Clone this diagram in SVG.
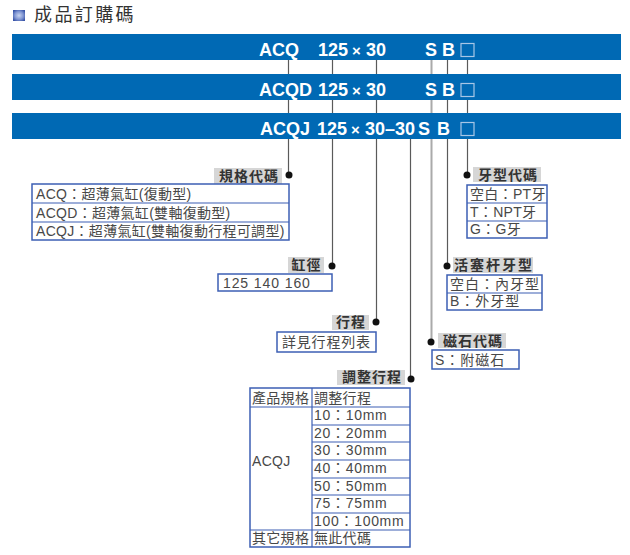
<svg xmlns="http://www.w3.org/2000/svg" width="630" height="555" viewBox="0 0 630 555">
<defs>
<radialGradient id="ig" cx="0.5" cy="0.5" r="0.6">
<stop offset="0" stop-color="#c8d4f0"/>
<stop offset="0.6" stop-color="#7f95d2"/>
<stop offset="1" stop-color="#3a55a8"/>
</radialGradient>
<style>
.bar{fill:#0069b4}
.bt{font-family:"Liberation Sans","Noto Sans CJK TC",sans-serif;font-weight:bold;font-size:18px;fill:#fff}
.bx{fill:none;stroke:#a7c6e6;stroke-width:1.2}
.ln{stroke:#5a5a5a;stroke-width:1.2;fill:none}
.ln2{stroke:#aaaaaa;stroke-width:2;fill:none}
.dot{fill:#111}
.lb{fill:#d6d6d6}
.lt{font-family:"Noto Sans CJK TC","Noto Sans CJK SC",sans-serif;font-weight:bold;font-size:14px;fill:#333;text-anchor:middle;letter-spacing:1px}
.box{fill:#fff;stroke:#3d5fb4;stroke-width:1.5}
.sep{stroke:#3d5fb4;stroke-width:1.2}
.vt{font-family:"Liberation Sans","Noto Sans CJK TC",sans-serif;font-size:14px;fill:#484848;letter-spacing:0.3px}
</style>
</defs>
<rect width="630" height="555" fill="#fff"/>
<g id="title">
<rect x="13" y="10" width="12" height="11" fill="url(#ig)"/>
<text x="34" y="21" font-family="Noto Sans CJK TC,Noto Sans CJK SC,sans-serif" font-size="18" letter-spacing="2.4" fill="#333">成品訂購碼</text>
</g>
<g id="connectors">
<line class="ln" x1="288.5" y1="60" x2="288.5" y2="175"/>
<line class="ln" x1="332.5" y1="60" x2="332.5" y2="266"/>
<line class="ln" x1="376.5" y1="60" x2="376.5" y2="322"/>
<line class="ln" x1="410.5" y1="139" x2="410.5" y2="379"/>
<line class="ln2" x1="431.5" y1="60" x2="431.5" y2="342"/>
<line class="ln" x1="447.5" y1="60" x2="447.5" y2="266"/>
<line class="ln" x1="467.5" y1="60" x2="467.5" y2="175"/>
<circle class="dot" cx="289" cy="175" r="3.5"/>
<circle class="dot" cx="332" cy="266" r="3.5"/>
<circle class="dot" cx="376" cy="322" r="3.5"/>
<circle class="dot" cx="411" cy="379" r="3.5"/>
<circle class="dot" cx="431" cy="342" r="3.5"/>
<circle class="dot" cx="447" cy="266" r="3.5"/>
<circle class="dot" cx="467" cy="175" r="3.5"/>
</g>
<g id="bar1">
<rect class="bar" x="12" y="34" width="609" height="26"/>
<text class="bt" y="56"><tspan x="259">ACQ</tspan><tspan x="318">125</tspan><tspan x="352" font-size="15">×</tspan><tspan x="366">30</tspan><tspan x="425">S</tspan><tspan x="442">B</tspan></text>
<rect class="bx" x="461" y="43.5" width="13" height="13"/>
</g>
<g id="bar2">
<rect class="bar" x="12" y="74" width="609" height="26"/>
<text class="bt" y="96"><tspan x="259">ACQD</tspan><tspan x="318">125</tspan><tspan x="352" font-size="15">×</tspan><tspan x="366">30</tspan><tspan x="425">S</tspan><tspan x="442">B</tspan></text>
<rect class="bx" x="461" y="83.5" width="13" height="13"/>
</g>
<g id="bar3">
<rect class="bar" x="12" y="113" width="609" height="26"/>
<text class="bt" y="135"><tspan x="260">ACQJ</tspan><tspan x="317">125</tspan><tspan x="351" font-size="15">×</tspan><tspan x="365">30</tspan><tspan x="385">–</tspan><tspan x="395">30</tspan><tspan x="418">S</tspan><tspan x="437">B</tspan></text>
<rect class="bx" x="461" y="122.5" width="13" height="13"/>
</g>
<g id="model">
<rect class="lb" x="214" y="168" width="68" height="16"/>
<text class="lt" x="249" y="181">規格代碼</text>
<rect class="box" x="32" y="184" width="257" height="56"/>
<line class="sep" x1="32" y1="203" x2="289" y2="203"/>
<line class="sep" x1="32" y1="222" x2="289" y2="222"/>
<text class="vt" x="36" y="199">ACQ：超薄氣缸(復動型)</text>
<text class="vt" x="36" y="218">ACQD：超薄氣缸(雙軸復動型)</text>
<text class="vt" x="36" y="236">ACQJ：超薄氣缸(雙軸復動行程可調型)</text>
</g>
<g id="bore">
<rect class="lb" x="288" y="257" width="36" height="16"/>
<text class="lt" x="306.5" y="270">缸徑</text>
<rect class="box" x="218" y="274" width="114" height="17"/>
<text class="vt" x="223" y="288" style="letter-spacing:0.9px">125 140 160</text>
</g>
<g id="stroke">
<rect class="lb" x="332" y="315" width="37" height="15"/>
<text class="lt" x="351" y="327">行程</text>
<rect class="box" x="277" y="332" width="99" height="20"/>
<text class="vt" x="282" y="347" style="letter-spacing:0.8px">詳見行程列表</text>
</g>
<g id="adjust">
<rect class="lb" x="337" y="370" width="68" height="15"/>
<text class="lt" x="372" y="382">調整行程</text>
<rect class="box" x="250" y="388" width="160" height="159"/>
<line class="sep" x1="312" y1="388" x2="312" y2="547"/>
<line class="sep" x1="250" y1="407" x2="410" y2="407"/>
<line class="sep" x1="312" y1="425" x2="410" y2="425"/>
<line class="sep" x1="312" y1="442" x2="410" y2="442"/>
<line class="sep" x1="312" y1="460" x2="410" y2="460"/>
<line class="sep" x1="312" y1="478" x2="410" y2="478"/>
<line class="sep" x1="312" y1="495" x2="410" y2="495"/>
<line class="sep" x1="312" y1="513" x2="410" y2="513"/>
<line class="sep" x1="250" y1="530" x2="410" y2="530"/>
<text class="vt" x="252" y="403">產品規格</text>
<text class="vt" x="314" y="403">調整行程</text>
<text class="vt" x="252" y="466">ACQJ</text>
<text class="vt" x="314" y="420" style="letter-spacing:0.7px">10：10mm</text>
<text class="vt" x="314" y="438" style="letter-spacing:0.7px">20：20mm</text>
<text class="vt" x="314" y="455" style="letter-spacing:0.7px">30：30mm</text>
<text class="vt" x="314" y="473" style="letter-spacing:0.7px">40：40mm</text>
<text class="vt" x="314" y="491" style="letter-spacing:0.7px">50：50mm</text>
<text class="vt" x="314" y="508" style="letter-spacing:0.7px">75：75mm</text>
<text class="vt" x="314" y="526" style="letter-spacing:0.7px">100：100mm</text>
<text class="vt" x="252" y="543">其它規格</text>
<text class="vt" x="314" y="543">無此代碼</text>
</g>
<g id="thread">
<rect class="lb" x="473" y="167" width="68" height="15"/>
<text class="lt" x="508" y="180">牙型代碼</text>
<rect class="box" x="467" y="185" width="80" height="53"/>
<line class="sep" x1="467" y1="203" x2="547" y2="203"/>
<line class="sep" x1="467" y1="221" x2="547" y2="221"/>
<text class="vt" x="470" y="199">空白：PT牙</text>
<text class="vt" x="470" y="217">T：NPT牙</text>
<text class="vt" x="470" y="234">G：G牙</text>
</g>
<g id="rod">
<rect class="lb" x="453" y="257" width="80" height="16"/>
<text class="lt" x="494" y="270" style="letter-spacing:2px">活塞杆牙型</text>
<rect class="box" x="447" y="275" width="95" height="35"/>
<line class="sep" x1="447" y1="293" x2="542" y2="293"/>
<text class="vt" x="450" y="289" style="letter-spacing:1px">空白：內牙型</text>
<text class="vt" x="450" y="306" style="letter-spacing:1px">B：外牙型</text>
</g>
<g id="magnet">
<rect class="lb" x="438" y="333" width="68" height="15"/>
<text class="lt" x="473" y="346">磁石代碼</text>
<rect class="box" x="432" y="350" width="87" height="19"/>
<text class="vt" x="435" y="365" style="letter-spacing:1px">S：附磁石</text>
</g>
</svg>
